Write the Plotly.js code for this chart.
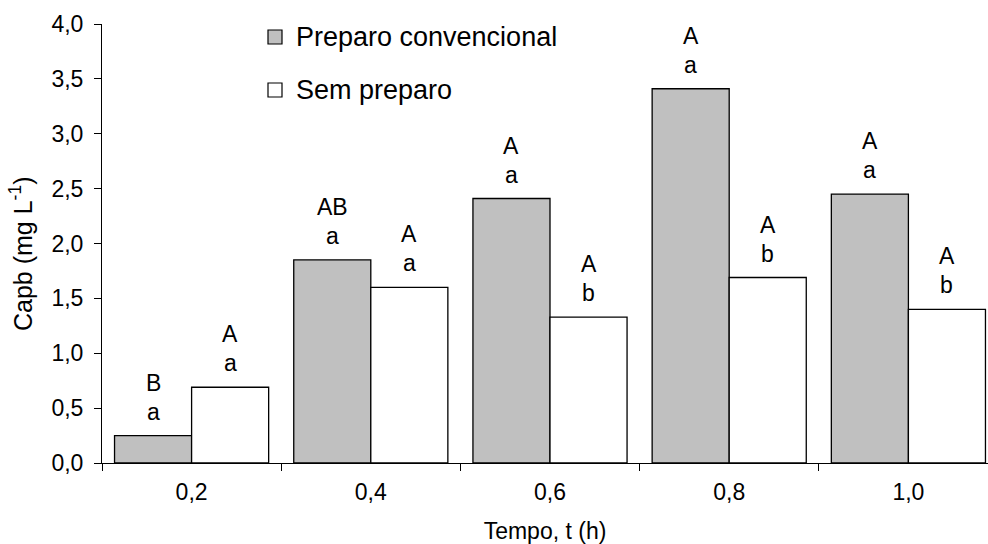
<!DOCTYPE html>
<html>
<head>
<meta charset="utf-8">
<script src="https://cdn.plot.ly/plotly-3.0.1.min.js"></script>
<style>html,body{margin:0;padding:0;background:#fff;}#chart{width:988px;height:544px;}</style>
</head>
<body>
<div id="chart"></div>
<script>
var categories = ["0,2", "0,4", "0,6", "0,8", "1,0"];
var seriesNames = ["Preparo convencional", "Sem preparo"];
var convencional = [0.25, 1.85, 2.41, 3.41, 2.45];
var semPreparo = [0.69, 1.60, 1.33, 1.69, 1.40];
var convUpper = ["B", "AB", "A", "A", "A"];
var convLower = ["a", "a", "a", "a", "a"];
var semUpper = ["A", "A", "A", "A", "A"];
var semLower = ["a", "a", "b", "b", "b"];
var yTicks = [0, 0.5, 1, 1.5, 2, 2.5, 3, 3.5, 4];
var xTitle = "Tempo, t (h)";
var yTitle = "Capb (mg L<sup>-1</sup>)";

var FONT = "Liberation Sans, Arial, Helvetica, sans-serif";
var FS = 23;
var bargap = 0.14;
var off = (1 - bargap) / 4;

var traces = [
  {type: "bar", name: seriesNames[0], x: categories, y: convencional,
   marker: {color: "#c0c0c0", line: {color: "#000", width: 1.3}}, showlegend: false, hoverinfo: "none"},
  {type: "bar", name: seriesNames[1], x: categories, y: semPreparo,
   marker: {color: "#ffffff", line: {color: "#000", width: 1.3}}, showlegend: false, hoverinfo: "none"}
];

var annotations = [];
function addLetters(vals, upper, lower, sign) {
  for (var i = 0; i < vals.length; i++) {
    annotations.push({x: i + sign * off, y: vals[i], xref: "x", yref: "y", text: lower[i],
      showarrow: false, yanchor: "middle", yshift: 24, font: {family: FONT, size: FS, color: "#000"}});
    annotations.push({x: i + sign * off, y: vals[i], xref: "x", yref: "y", text: upper[i],
      showarrow: false, yanchor: "middle", yshift: 53, font: {family: FONT, size: FS, color: "#000"}});
  }
}
addLetters(convencional, convUpper, convLower, -1);
addLetters(semPreparo, semUpper, semLower, 1);

// manual legend
var legendColors = ["#c0c0c0", "#ffffff"];
var shapes = [];
var legendRowsY = [37, 90];
for (var k = 0; k < seriesNames.length; k++) {
  var yc = legendRowsY[k];
  shapes.push({type: "rect", xref: "paper", yref: "paper",
    x0: (268 - 102) / 886, x1: (282 - 102) / 886,
    y0: (463 - (yc + 7)) / 439, y1: (463 - (yc - 7)) / 439,
    fillcolor: legendColors[k], line: {color: "#000", width: 1.2}});
  annotations.push({xref: "paper", yref: "paper", x: (294 - 102) / 886, y: (463 - yc) / 439,
    xanchor: "left", yanchor: "middle", text: seriesNames[k], showarrow: false,
    font: {family: FONT, size: 27, color: "#000"}});
}

// y-axis title as rotated annotation
annotations.push({xref: "paper", yref: "paper", x: (21 - 102) / 886, y: (463 - 254) / 439,
  xanchor: "center", yanchor: "middle", textangle: -90, text: yTitle, showarrow: false,
  font: {family: FONT, size: 25, color: "#000"}});

var layout = {
  width: 988, height: 544,
  margin: {l: 102, r: 0, t: 24, b: 81},
  paper_bgcolor: "#fff", plot_bgcolor: "#fff",
  separators: ",.",
  barmode: "group", bargap: bargap, bargroupgap: 0,
  font: {family: FONT, size: FS, color: "#000"},
  xaxis: {
    type: "category", range: [-0.5, -0.5 + 886 / 179.2],
    tickson: "boundaries", ticks: "outside", ticklen: 7, tickwidth: 1, tickcolor: "#000",
    showline: true, linecolor: "#000", linewidth: 1, showgrid: false, zeroline: false,
    ticklabelstandoff: 8,
    tickfont: {family: FONT, size: FS, color: "#000"},
    title: {text: xTitle, font: {family: FONT, size: FS, color: "#000"}, standoff: 21},
    automargin: false
  },
  yaxis: {
    range: [0, 4], tickvals: yTicks, tickformat: ".1f",
    ticks: "outside", ticklen: 7, tickwidth: 1, tickcolor: "#000",
    showline: true, linecolor: "#000", linewidth: 1, showgrid: false, zeroline: false,
    ticklabelstandoff: 6,
    tickfont: {family: FONT, size: FS, color: "#000"},
    automargin: false
  },
  annotations: annotations,
  shapes: shapes
};

Plotly.newPlot("chart", traces, layout, {staticPlot: true});
</script>
</body>
</html>
